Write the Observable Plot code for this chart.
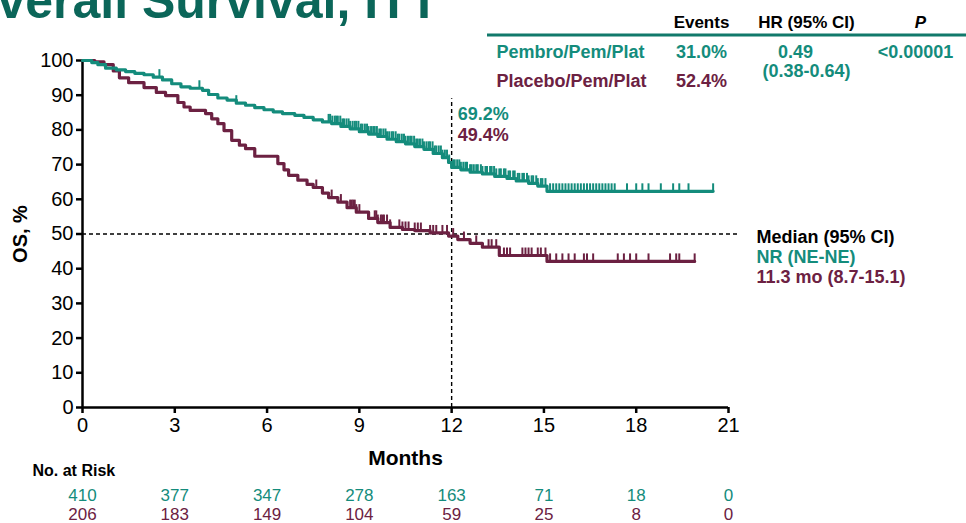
<!DOCTYPE html>
<html>
<head>
<meta charset="utf-8">
<script src="https://cdn.jsdelivr.net/npm/d3@7"></script>
<script src="https://cdn.jsdelivr.net/npm/@observablehq/plot@0.6"></script>
<style>
  body { margin: 0; background: #fff; }
  #chart svg { display: block; }
  #chart svg [aria-label$="axis tick"] path,
  #chart svg [aria-label$="axis"] .tick line { stroke-width: 2.5px; }
  #chart svg [aria-label="title"] text { filter: drop-shadow(2px 2px 1.5px rgba(0,0,0,0.35)); }
</style>
</head>
<body>
<div id="chart"></div>
<script>
// ---- Data -------------------------------------------------------------
const monthTicks = [0, 3, 6, 9, 12, 15, 18, 21];
const yTicks = [0, 10, 20, 30, 40, 50, 60, 70, 80, 90, 100];
const armNames = ["Pembro/Pem/Plat", "Placebo/Pem/Plat"];

// Kaplan-Meier step points (month, OS %)
const pembroTimes = [0, 0.3, 0.5, 0.75, 1.1, 1.4, 1.7, 2.0, 2.3, 2.6, 2.9, 3.2, 3.5, 3.9, 4.1, 4.4, 4.7, 5.0, 5.3, 5.6, 5.9, 6.2, 6.5, 6.9, 7.2, 7.5, 7.8, 8.1, 8.4, 8.7, 9.0, 9.3, 9.6, 9.9, 10.2, 10.5, 10.8, 11.1, 11.4, 11.7, 11.9, 12.0, 12.3, 12.6, 13.0, 13.4, 13.8, 14.1, 14.5, 14.8, 15.1];
const pembroSurv  = [100, 99.4, 98.8, 97.8, 97.3, 96.8, 96.3, 95.9, 95.2, 94.4, 93.3, 92.4, 92.0, 91.4, 90.2, 89.2, 88.6, 87.7, 87.1, 86.4, 85.8, 85.2, 84.7, 84.2, 83.6, 82.9, 82.3, 81.8, 81.0, 80.3, 79.5, 78.8, 78.1, 77.3, 76.6, 76.0, 75.2, 74.4, 73.2, 72.0, 70.6, 69.2, 68.5, 67.8, 67.3, 66.6, 66.0, 65.3, 64.6, 63.8, 62.3];
const pembroLastFollowUp = 20.5;
const pembroCensored = [2.5, 3.8, 5.0,
  8.0, 8.05, 8.12, 8.2, 8.25, 8.3, 8.38, 8.45, 8.5, 8.58, 8.65, 8.7, 8.78, 8.85, 8.9, 8.97, 9.05, 9.1, 9.18, 9.25, 9.3, 9.38, 9.45, 9.5, 9.57, 9.65, 9.7, 9.78, 9.85, 9.9, 9.97,
  10.05, 10.1, 10.18, 10.25, 10.3, 10.38, 10.45, 10.5, 10.58, 10.65, 10.7, 10.78, 10.85, 10.9, 10.97, 11.05, 11.1, 11.18, 11.25, 11.3, 11.38, 11.45, 11.5, 11.58, 11.65, 11.7, 11.78, 11.85, 11.92,
  12.05, 12.1, 12.18, 12.25, 12.3, 12.38, 12.45, 12.5, 12.6, 12.65, 12.72, 12.8, 12.85, 12.95, 13.0, 13.1, 13.15, 13.25, 13.3, 13.38, 13.45, 13.55, 13.6, 13.7, 13.75, 13.85, 13.9,
  14.0, 14.05, 14.15, 14.2, 14.3, 14.35, 14.45, 14.5, 14.6, 14.65, 14.75, 14.8, 14.9, 14.95, 15.05,
  15.2, 15.3, 15.4, 15.5, 15.6, 15.7, 15.8, 15.9, 16.0, 16.1, 16.2, 16.3, 16.4, 16.5, 16.6, 16.7, 16.8, 16.9, 17.0, 17.1, 17.2, 17.3,
  17.7, 18.0, 18.2, 18.4, 18.8, 19.2, 19.4, 19.7, 20.5];

const placeboTimes = [0, 0.4, 0.7, 1.0, 1.2, 1.5, 2.0, 2.4, 2.7, 3.1, 3.3, 3.5, 4.0, 4.2, 4.4, 4.6, 4.85, 5.1, 5.3, 5.6, 6.35, 6.55, 6.7, 7.0, 7.3, 7.5, 7.8, 8.0, 8.3, 8.6, 8.9, 9.3, 9.6, 10.0, 10.4, 10.8, 11.3, 11.9, 12.2, 12.6, 13.0, 13.55, 15.1];
const placeboSurv  = [100, 99.6, 98.8, 97.0, 95.0, 93.6, 92.2, 90.8, 89.9, 87.9, 86.6, 85.6, 84.7, 83.2, 81.8, 79.8, 77.0, 75.6, 74.6, 72.4, 70.3, 68.5, 66.9, 65.5, 64.3, 63.4, 61.8, 60.5, 59.2, 57.6, 56.3, 54.5, 53.3, 51.9, 51.3, 51.0, 50.3, 49.4, 48.4, 47.3, 46.2, 43.8, 42.1];
const placeboLastFollowUp = 19.9;
const placeboCensored = [7.6, 8.1, 8.4, 8.7, 8.75, 8.8, 8.85, 8.9, 9.0, 9.5, 9.55, 9.6, 9.7, 9.75, 9.8, 9.9, 10.0, 10.3, 10.4, 10.5, 10.6, 10.8, 10.9, 11.0, 11.3, 11.4, 11.5, 11.7, 11.85, 12.05, 12.4, 12.8, 13.2, 13.3, 13.45, 13.7, 13.8, 13.9, 14.3, 14.4, 14.5, 14.6, 14.8, 14.9, 15.05, 15.2, 15.4, 15.6, 15.8, 16.0, 16.3, 16.4, 16.6, 17.4, 17.6, 17.8, 18.0, 18.4, 19.1, 19.3, 19.4, 19.9];

// Summary statistics
const eventRates = ["31.0%", "52.4%"];
const hazardRatio = "0.49";
const hazardRatioCI = "(0.38-0.64)";
const pValue = "<0.00001";
const landmarkMonth = 12;
const landmarkRates = [69.2, 49.4];
const medianLevel = 50;
const medianText = ["NR (NE-NE)", "11.3 mo (8.7-15.1)"];

// Number at risk at each month tick
const riskPembro  = [410, 377, 347, 278, 163, 71, 18, 0];
const riskPlacebo = [206, 183, 149, 104, 59, 25, 8, 0];

// ---- Styling ----------------------------------------------------------
const teal = "#148c7c";
const maroon = "#6c2142";
const colors = [teal, maroon];
const titleColor = "#0b6659";
const W = 966, H = 523;
const mL = 82, mR = 238, mT = 60, mB = 116;

// ---- Derived series ---------------------------------------------------
function stepSeries(times, surv, last) {
  const pts = times.map((t, i) => ({t, s: surv[i]}));
  pts.push({t: last, s: surv[surv.length - 1]});
  return pts;
}
function survivalAt(times, surv, t) {
  let s = surv[0];
  for (let i = 0; i < times.length; i++) if (times[i] <= t) s = surv[i];
  return s;
}
const curves = [
  stepSeries(pembroTimes, pembroSurv, pembroLastFollowUp),
  stepSeries(placeboTimes, placeboSurv, placeboLastFollowUp)
];
const censors = [
  pembroCensored.map(t => ({t, s: survivalAt(pembroTimes, pembroSurv, t)})),
  placeboCensored.map(t => ({t, s: survivalAt(placeboTimes, placeboSurv, t)}))
];
const riskRows = [riskPembro, riskPlacebo].map(row => row.map((n, i) => ({m: monthTicks[i], n})));

// Vertical censor tick drawn upward from the curve
const censorTick = {
  draw(ctx, size) {
    const h = Math.sqrt(size / Math.PI);
    ctx.moveTo(0, 0);
    ctx.lineTo(0, -h);
  }
};

// Text placed at a page position (relative to the frame's top-left corner)
function note(text, px, py, o = {}) {
  return Plot.text([text], {
    frameAnchor: "top-left", dx: px - mL, dy: py - mT, text: d => d,
    lineAnchor: "middle", fontWeight: "bold", fontSize: 18, ...o
  });
}

const marks = [
  // reference lines
  Plot.ruleY([medianLevel], {x1: 0, x2: 21.3, stroke: "#000", strokeWidth: 1.4, strokeDasharray: "4,3"}),
  Plot.ruleX([landmarkMonth], {y1: 0, y2: 89, stroke: "#000", strokeWidth: 1.4, strokeDasharray: "4,3"}),
  // axis lines
  Plot.ruleX([0], {stroke: "#000", strokeWidth: 2.5}),
  Plot.ruleY([0], {stroke: "#000", strokeWidth: 2.5}),
];

[1, 0].forEach(i => {
  marks.push(Plot.line(curves[i], {x: "t", y: "s", curve: "step-after", stroke: colors[i], strokeWidth: 3.2}));
  marks.push(Plot.dot(censors[i], {x: "t", y: "s", r: 8, symbol: censorTick, stroke: colors[i], strokeWidth: 2, fill: "none"}));
});

// landmark rates at 12 months
landmarkRates.forEach((v, i) => {
  marks.push(Plot.text([v], {x: landmarkMonth, frameAnchor: "top", dx: 6, dy: 54 + 21 * i,
    text: d => d.toFixed(1) + "%", textAnchor: "start", lineAnchor: "middle",
    fill: colors[i], fontWeight: "bold", fontSize: 18}));
});

// axis titles
marks.push(Plot.text(["OS, %"], {frameAnchor: "left", dx: -62, rotate: -90, text: d => d,
  fontWeight: "bold", fontSize: 20, lineAnchor: "middle", textAnchor: "middle"}));
marks.push(Plot.text(["Months"], {frameAnchor: "bottom", dy: 51, text: d => d,
  fontWeight: "bold", fontSize: 21, lineAnchor: "middle", textAnchor: "middle"}));

// number at risk
marks.push(note("No. at Risk", 32, 470, {fontSize: 16, textAnchor: "start", fill: "#000"}));
riskRows.forEach((row, i) => {
  marks.push(Plot.text(row, {x: "m", text: d => String(d.n), frameAnchor: "bottom", dy: 88 + 19 * i,
    lineAnchor: "middle", textAnchor: "middle", fill: colors[i], fontSize: 17}));
});

// title
marks.push(note("Overall Survival, ITT", -42, 17, {fontSize: 50, fill: titleColor, lineAnchor: "bottom",
  textAnchor: "start", ariaLabel: "title"}));

// summary table
marks.push(note("Events", 701, 22, {textAnchor: "middle", fontSize: 17}));
marks.push(note("HR (95% CI)", 806, 22, {textAnchor: "middle", fontSize: 17}));
marks.push(note("P", 920, 22, {textAnchor: "middle", fontSize: 17, fontStyle: "italic"}));
armNames.forEach((name, i) => {
  const y = 52 + 29 * i;
  marks.push(note(name, 496, y, {textAnchor: "start", fill: colors[i]}));
  marks.push(note(eventRates[i], 701, y, {textAnchor: "middle", fill: colors[i]}));
});
marks.push(note(hazardRatio, 795, 52, {textAnchor: "middle", fill: teal}));
marks.push(note(hazardRatioCI, 806, 71, {textAnchor: "middle", fill: teal}));
marks.push(note(pValue, 915, 52, {textAnchor: "middle", fill: teal}));

// median survival
marks.push(note("Median (95% CI)", 756, 237, {textAnchor: "start", fill: "#000"}));
medianText.forEach((t, i) => marks.push(note(t, 756, 257 + 20 * i, {textAnchor: "start", fill: colors[i]})));

const chart = Plot.plot({
  width: W, height: H,
  marginLeft: mL, marginRight: mR, marginTop: mT, marginBottom: mB,
  style: {fontFamily: "Liberation Sans, Arial, Helvetica, sans-serif", fontSize: "20px", color: "#000", background: "#fff"},
  x: {domain: [0, 21], ticks: monthTicks, tickSize: 6, tickPadding: 4, label: null},
  y: {domain: [0, 100], ticks: yTicks, tickSize: 6, tickPadding: 3, label: null},
  marks
});

// teal rule under the table header
d3.select(chart).append("line")
  .attr("x1", 487).attr("x2", W).attr("y1", 35).attr("y2", 35)
  .attr("stroke", "#11796b").attr("stroke-width", 3);

document.getElementById("chart").appendChild(chart);
</script>
</body>
</html>
